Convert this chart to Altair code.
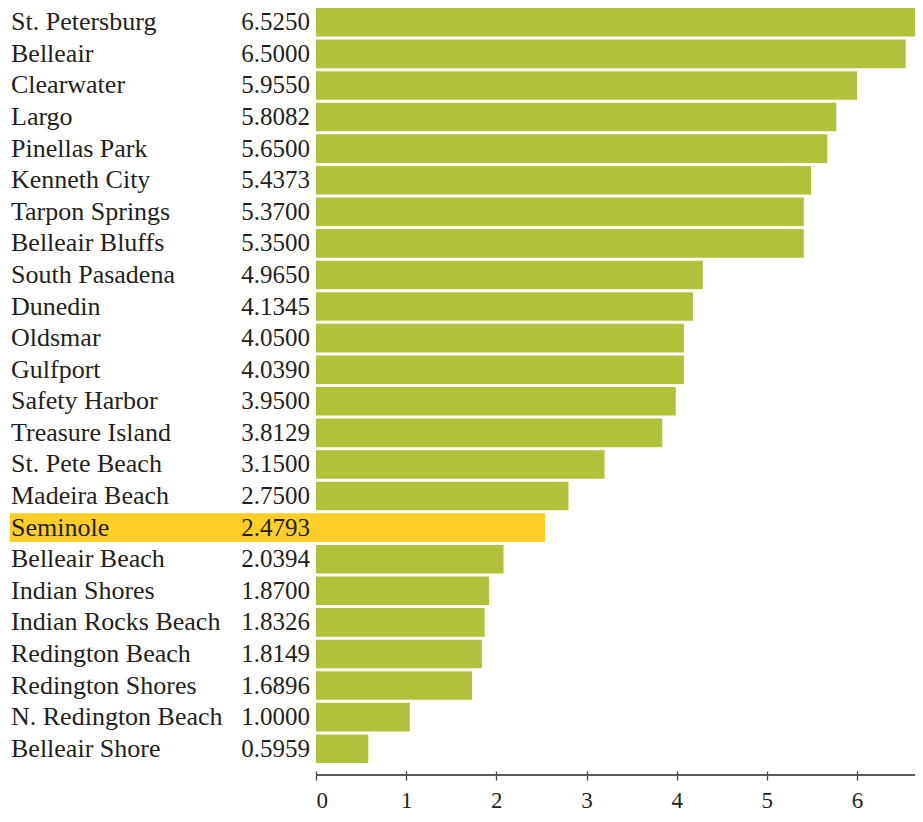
import altair as alt
import pandas as pd

cities = [
    "St. Petersburg", "Belleair", "Clearwater", "Largo", "Pinellas Park",
    "Kenneth City", "Tarpon Springs", "Belleair Bluffs", "South Pasadena",
    "Dunedin", "Oldsmar", "Gulfport", "Safety Harbor", "Treasure Island",
    "St. Pete Beach", "Madeira Beach", "Seminole", "Belleair Beach",
    "Indian Shores", "Indian Rocks Beach", "Redington Beach",
    "Redington Shores", "N. Redington Beach", "Belleair Shore",
]
rates = [
    "6.5250", "6.5000", "5.9550", "5.8082", "5.6500", "5.4373", "5.3700",
    "5.3500", "4.9650", "4.1345", "4.0500", "4.0390", "3.9500", "3.8129",
    "3.1500", "2.7500", "2.4793", "2.0394", "1.8700", "1.8326", "1.8149",
    "1.6896", "1.0000", "0.5959",
]
# bar lengths as drawn in the picture
bar_lengths = [
    6.75, 6.54, 6.00, 5.77, 5.67, 5.49, 5.41, 5.41, 4.29, 4.18, 4.08, 4.08,
    3.99, 3.84, 3.20, 2.80, 2.54, 2.08, 1.92, 1.87, 1.84, 1.73, 1.04, 0.58,
]
tick_values = [0, 1, 2, 3, 4, 5, 6]
highlight = "Seminole"

GREEN = "#B2C13A"
YELLOW = "#FFCE27"
TEXT = "#231f20"
FONT = "Liberation Serif, serif"

X_MAX = 6.643
W = 599
H = 755
NAME_X = -306
VAL_X = -6

df = pd.DataFrame({"city": cities, "rate": rates, "length": bar_lengths})
df["hl"] = df["city"] == highlight

xscale = alt.Scale(domain=[0, X_MAX], nice=False, zero=True)
yenc = alt.Y("city:N", sort=cities, axis=None,
             scale=alt.Scale(paddingInner=0.095, paddingOuter=0))

base = alt.Chart(df)

bars = base.mark_bar(clip=True).encode(
    x=alt.X("length:Q", scale=xscale,
            axis=alt.Axis(values=tick_values, offset=8, tickSize=9, domain=False,
                          grid=False, labelFont=FONT, labelFontSize=23,
                          labelColor=TEXT, labelPadding=9, tickColor="#444444",
                          tickWidth=1.3, format="d", title=None)),
    y=yenc,
    color=alt.condition("datum.hl", alt.value(YELLOW), alt.value(GREEN)),
)

hl_rect = base.transform_filter("datum.hl").mark_rect(color=YELLOW).encode(
    x=alt.value(NAME_X),
    x2=alt.value(0),
    y=yenc,
)

names = base.mark_text(align="left", baseline="middle", font=FONT,
                       fontSize=26, color=TEXT).encode(
    x=alt.value(NAME_X + 1), y=yenc, text="city:N")

vals = base.mark_text(align="right", baseline="middle", font=FONT,
                      fontSize=25, color=TEXT).encode(
    x=alt.value(VAL_X), y=yenc, text="rate:N")

domain_df = pd.DataFrame({"a": [0.0], "b": [X_MAX]})
domain_line = alt.Chart(domain_df).mark_rule(color="#5a5a5a", strokeWidth=2).encode(
    x=alt.X("a:Q", scale=xscale),
    x2="b:Q",
    y=alt.value(H + 12),
)

chart = alt.layer(bars, hl_rect, names, vals, domain_line).properties(
    width=W, height=H,
    autosize=alt.AutoSizeParams(type="none"),
    padding={"left": 308, "top": 0, "right": 0, "bottom": 50},
).configure_view(stroke=None)

chart.save("out.html", embed_options={"renderer": "svg", "actions": False})
